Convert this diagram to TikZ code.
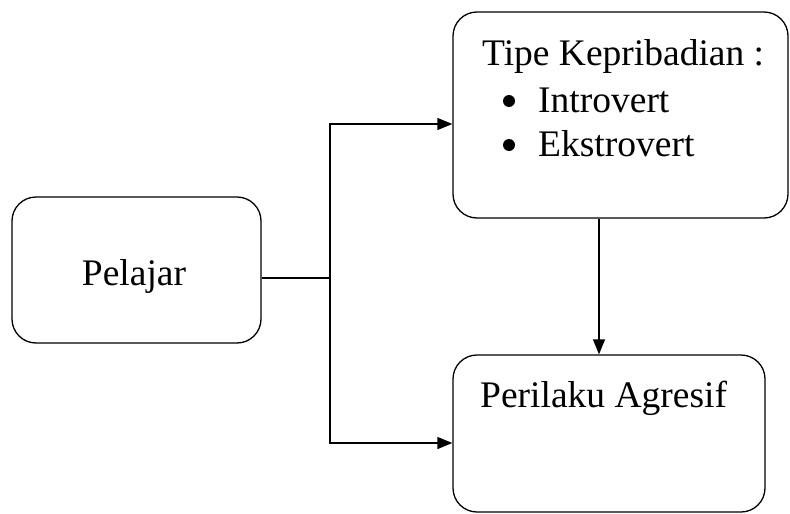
\documentclass[tikz,border=0pt]{standalone}
\usepackage{fontspec}
\setmainfont{Liberation Serif}
\usetikzlibrary{arrows.meta}
\begin{document}
\begin{tikzpicture}[x=1pt,y=-1pt,
  box/.style={draw,line width=1.3pt,rounded corners=24pt,inner sep=0pt},
  txt/.style={anchor=base west,inner sep=0pt,font=\fontsize{37.5}{45}\selectfont},
  bul/.style={circle,fill,inner sep=0pt,minimum size=12pt},
  arr/.style={line width=1.3pt,-{Triangle[length=15pt,width=12pt]}},
  ln/.style={line width=1.3pt}]
\useasboundingbox (0,0) rectangle (790,514);
\node[box,minimum width=249pt,minimum height=146pt] (p) at (136.5,270) {};
\node[box,minimum width=335pt,minimum height=206pt] (t) at (620.5,115) {};
\node[box,minimum width=312pt,minimum height=157pt] (b) at (609,433.5) {};
\node[txt,anchor=base] (pt) at (134,285) {Pelajar};
\node[txt] (tt) at (482,65) {Tipe Kepribadian :};
\node[bul] (b1) at (509,101) {};
\node[txt] (i1) at (538,112) {Introvert};
\node[bul] (b2) at (509,145) {};
\node[txt] (i2) at (538,156) {Ekstrovert};
\node[txt] (bt) at (480,407) {Perilaku Agresif};
\coordinate (j) at (330,278);
\draw[ln] (p.east |- j) -- (j);
\draw[arr] (j) |- (t.west |- 0,124);
\draw[arr] (j) |- (b.west |- 0,443);
\draw[arr] (t.south -| 599,0) -- (b.north -| 599,0);
\end{tikzpicture}
\end{document}
